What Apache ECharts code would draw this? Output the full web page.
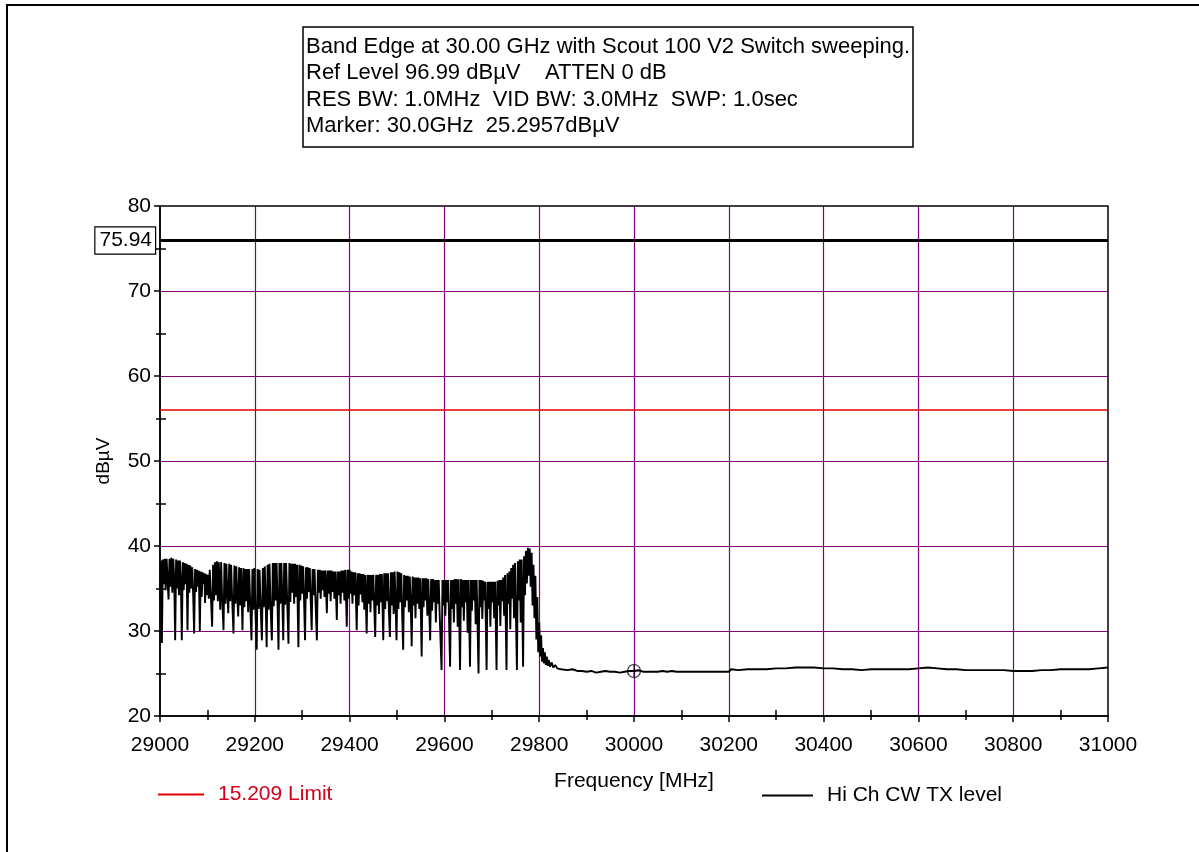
<!DOCTYPE html>
<html>
<head>
<meta charset="utf-8">
<script src="https://cdn.jsdelivr.net/npm/echarts@6.0.0/dist/echarts.min.js"></script>
<style>
html,body{margin:0;padding:0;background:#fff;}
#chart{width:1199px;height:852px;}
</style>
</head>
<body>
<div id="chart"></div>
<script>
const headerLines = [
  'Band Edge at 30.00 GHz with Scout 100 V2 Switch sweeping.',
  'Ref Level 96.99 dB\u00b5V    ATTEN 0 dB',
  'RES BW: 1.0MHz  VID BW: 3.0MHz  SWP: 1.0sec',
  'Marker: 30.0GHz  25.2957dB\u00b5V'
];
const freqRange = [29000, 31000];
const freqStep = 200;
const levelRange = [20, 80];
const levelStep = 10;
const xMinorTicks = [29100, 29300, 29500, 29700, 29900, 30100, 30300, 30500, 30700, 30900];
const yMinorTicks = [25, 35, 45, 55, 65, 75];
const limitName = '15.209 Limit';
const limitDb = 56;
const txName = 'Hi Ch CW TX level';
const txLevelDb = 75.94;
const markerPoint = [30000, 25.2957];

// measured trace [MHz, dBuV]
const trace = [
[29000,33.5],[29002,38.3],[29004,28.6],[29006,38.4],[29008,35.5],[29010,38.5],[29012,34.8],[29014,38.5],[29016,36],[29018,33.7],
[29020,38.5],[29022,35.2],[29024,38.6],[29026,34.5],[29028,38.5],[29030,36.2],[29032,28.9],
[29034,38.4],[29036,35],[29038,38.3],[29040,34.2],[29042,38.3],[29044,36],[29046,28.9],
[29048,38.1],[29050,34.8],[29052,38],[29054,35.5],[29056,37.9],[29058,30.1],
[29060,37.8],[29062,34.5],[29064,37.7],[29066,35],[29068,37.5],[29070,34.3],[29072,29.7],
[29074,37.3],[29076,34.6],[29078,37.2],[29080,35.2],[29082,37.1],[29084,30.0],
[29086,37.0],[29088,34],[29090,36.9],[29092,35.5],[29094,36.8],[29095,33.3],
[29097,36.7],[29099,34.2],[29101,36.6],[29103,33.8],[29105,37.2],[29107,34.5],[29110,30.5],
[29112,37.8],[29114,33.6],[29116,38.1],[29118,34.2],[29120,38.2],[29122,33.5],[29124,38.1],[29127,32.5],
[29129,38.1],[29131,34],[29134,30.1],
[29136,38.0],[29138,33.2],[29140,37.9],[29142,34.5],[29144,32.1],
[29146,37.9],[29148,33.5],[29150,37.8],[29152,34.2],[29155,29.7],
[29157,37.7],[29159,33.2],[29161,37.6],[29163,34],[29165,31.7],
[29167,37.5],[29169,33],[29171,37.4],[29174,30.1],
[29176,37.4],[29178,32.8],[29180,37.3],[29182,33.5],[29184,37.3],[29186,32.2],[29188,37.3],[29190,33.8],[29193,28.9],
[29195,37.3],[29197,32.5],[29199,37.4],[29201,33.2],[29204,27.8],
[29206,37.3],[29208,32.6],[29210,37.2],[29212,33.4],[29215,28.9],
[29217,37.4],[29219,32.8],[29221,37.6],[29223,33.5],[29225,28.1],
[29227,37.8],[29229,32.5],[29231,37.9],[29233,33.3],[29236,28.9],
[29238,38.0],[29240,32.9],[29242,38.0],[29244,33.6],[29246,38.0],[29248,33.0],[29250,27.8],
[29252,38.0],[29254,33.2],[29256,38.0],[29258,34],[29260,28.9],
[29262,38.0],[29264,33.1],[29266,38.0],[29268,34.2],[29271,28.5],
[29273,38.0],[29275,33.4],[29277,37.9],[29279,34.5],[29281,37.9],[29283,33.2],[29285,37.9],[29287,34],[29289,37.8],[29292,28.1],
[29294,37.8],[29296,33.6],[29298,37.7],[29300,34.4],[29302,37.6],[29304,33.5],[29306,28.9],
[29308,37.5],[29310,33.8],[29312,37.5],[29314,34.6],[29316,37.4],[29318,33.5],[29320,30.1],
[29322,37.3],[29324,34.2],[29326,37.3],[29328,33.6],[29331,28.9],
[29333,37.2],[29335,34.5],[29337,37.2],[29339,33.8],[29341,37.1],[29343,34.8],[29345,37.1],[29347,34],[29349,37.1],[29352,32.1],
[29354,37.1],[29356,34.4],[29358,37.1],[29360,33.5],[29362,37.1],[29364,34.6],[29366,37.0],[29368,33.8],[29370,37.0],[29373,31.3],
[29375,37.0],[29377,34.2],[29379,37.0],[29381,33.2],[29383,37.1],[29385,34.5],[29387,37.1],[29389,33.6],[29391,37.2],[29394,30.5],
[29396,37.2],[29398,33.8],[29400,37.2],[29402,34.4],[29404,37.0],[29406,33.2],[29408,36.9],[29410,34.2],[29412,36.9],[29415,30.1],
[29417,36.8],[29419,33.0],[29421,36.8],[29423,34.3],[29425,36.7],[29427,33.4],[29429,36.7],[29431,32.5],[29433,36.6],[29436,29.7],
[29438,36.6],[29440,33.2],[29442,36.6],[29444,32.2],[29446,36.6],[29448,33.6],[29450,36.6],[29454,29.3],
[29456,36.6],[29458,33.0],[29460,36.6],[29462,32.0],[29464,36.7],[29466,33.4],[29468,36.7],[29471,28.9],
[29473,36.8],[29475,32.6],[29477,36.8],[29479,33.5],[29481,36.8],[29483,32.2],[29485,29.3],
[29487,36.9],[29489,33.0],[29491,36.9],[29493,32.0],[29495,37.0],[29497,33.4],[29499,28.9],
[29501,37.0],[29503,32.6],[29505,36.9],[29507,33.4],[29509,36.8],[29511,31.8],[29513,27.8],
[29515,36.6],[29517,32.8],[29519,36.5],[29521,33.6],[29523,36.5],[29525,32.2],[29527,36.4],[29529,33.2],[29531,28.2],
[29533,36.4],[29535,33.0],[29537,36.3],[29539,31.5],[29541,36.3],[29543,33.2],[29545,36.3],[29547,32.6],[29549,36.2],[29552,27.0],
[29554,36.2],[29556,32.8],[29558,36.2],[29560,33.6],[29562,36.2],[29564,31.8],[29566,36.1],[29570,28.9],
[29572,36.1],[29574,32.4],[29576,36.1],[29578,33.4],[29580,36.0],[29582,31.0],[29584,36.0],[29586,33.2],[29588,36.0],[29590,32.0],[29594,25.4],
[29596,36.0],[29598,33.0],[29600,36.0],[29602,31.8],[29604,36.0],[29606,33.4],[29608,36.0],[29612,25.8],
[29614,36.0],[29616,32.6],[29618,36.0],[29620,31.0],[29622,36.1],[29624,33.2],[29626,36.1],[29628,30.5],[29630,36.1],[29633,25.4],
[29635,36.1],[29637,32.8],[29639,36.0],[29641,31.2],[29643,36.0],[29645,33.4],[29647,36.0],[29649,29.8],[29651,36.0],[29654,25.8],
[29656,36.0],[29658,32.4],[29660,36.0],[29662,33.6],[29664,36.0],[29666,30.8],[29668,36.0],[29672,25.0],
[29674,36.0],[29676,32.8],[29678,36.0],[29680,31.4],[29682,35.9],[29684,33.6],[29686,35.8],[29689,25.4],
[29691,35.8],[29693,32.6],[29695,35.8],[29697,30.5],[29699,35.8],[29701,33.4],[29703,35.8],[29705,31.5],[29707,35.8],[29710,25.4],
[29712,35.9],[29714,33.0],[29716,36.0],[29718,30.6],[29720,36.0],[29722,33.5],[29724,36.3],[29726,31.8],[29728,36.6],[29731,25.4],
[29733,36.8],[29735,33.2],[29737,37.0],[29739,30.2],[29741,37.4],[29743,33.8],[29745,37.8],[29747,31.5],[29749,38.0],[29753,25.4],
[29755,38.2],[29757,33.6],[29759,38.4],[29761,31.0],[29763,38.4],[29766,25.8],
[29768,38.8],[29770,34.2],[29772,39.4],[29774,35.6],[29776,39.8],[29778,36.5],[29780,39.7],[29782,35.2],[29784,39.2],[29786,33.0],[29788,37.8],[29790,31.5],[29792,36.5],[29794,29.0],[29796,34.0],[29798,27.5],[29800,31.0],
[29802,27.0],[29804,29.5],[29806,26.4],[29808,28.0],[29810,26.2],[29812,27.5],[29814,26.0],[29816,27.0],[29818,25.9],[29820,26.6],[29823,25.8],[29826,26.3],[29830,25.7],[29834,26.0],[29838,25.6],[29842,25.8],[29846,25.5],[29850,25.6],
[29860,25.4],[29870,25.5],[29880,25.3],[29890,25.3],[29900,25.2],[29910,25.3],[29920,25.1],[29930,25.2],[29940,25.3],[29950,25.2],[29960,25.2],[29970,25.1],[29980,25.2],[29990,25.3],[30000,25.3],
[30010,25.4],[30020,25.2],[30030,25.2],[30040,25.2],[30050,25.2],[30060,25.3],[30070,25.2],[30080,25.3],[30090,25.2],[30100,25.2],[30110,25.2],[30120,25.2],[30130,25.2],[30140,25.2],[30150,25.2],[30160,25.2],[30170,25.2],[30180,25.2],[30190,25.2],[30200,25.2],
[30205,25.5],[30220,25.4],[30240,25.5],[30260,25.5],[30280,25.5],[30300,25.6],[30320,25.6],[30340,25.7],[30360,25.7],[30380,25.7],[30400,25.6],[30420,25.6],[30440,25.5],[30460,25.5],[30480,25.4],[30500,25.5],
[30520,25.5],[30540,25.5],[30560,25.5],[30580,25.5],[30600,25.6],[30620,25.7],[30640,25.6],[30660,25.5],[30680,25.5],[30700,25.4],[30720,25.4],[30740,25.4],[30760,25.4],[30780,25.4],[30800,25.3],
[30820,25.3],[30840,25.3],[30860,25.4],[30880,25.4],[30900,25.5],[30920,25.5],[30940,25.5],[30960,25.5],[30980,25.6],[31000,25.7]
];

const FONT = 'Arial, "Liberation Sans", sans-serif';
const GRID_PURPLE = '#800080';
const RED = '#e00000';

const chart = echarts.init(document.getElementById('chart'), null, {renderer: 'canvas'});

const headerGraphics = [
  {type: 'rect', shape: {x: 7, y: 5, width: 1400, height: 1000}, style: {fill: 'none', stroke: '#000', lineWidth: 2}, silent: true, z: 0},
  {type: 'rect', shape: {x: 303, y: 27, width: 610, height: 120}, style: {fill: '#fff', stroke: '#000', lineWidth: 1.5}, z: 10}
];
headerLines.forEach((t, i) => {
  headerGraphics.push({
    type: 'text', x: 306, y: 47 + i * 26.3, z: 11,
    style: {text: t, font: '22px ' + FONT, fill: '#000', textVerticalAlign: 'middle'}
  });
});

const option = {
  animation: false,
  backgroundColor: '#fff',
  graphic: headerGraphics,
  grid: {left: 160, right: 91, top: 206, bottom: 136, show: true, borderColor: '#000', borderWidth: 1.5, backgroundColor: 'transparent', z: 3},
  legend: [
    {data: [limitName], left: 153, top: 779, icon: 'rect', itemWidth: 46, itemHeight: 2,
     textStyle: {color: '#d0001a', fontSize: 21, fontFamily: FONT, padding: [0, 0, 0, 9]}},
    {data: [txName], left: 757, top: 780, icon: 'rect', itemWidth: 51, itemHeight: 2,
     textStyle: {color: '#000', fontSize: 21, fontFamily: FONT, padding: [0, 0, 0, 9]}}
  ],
  xAxis: [
    {type: 'value', min: freqRange[0], max: freqRange[1], interval: freqStep,
     name: 'Frequency [MHz]', nameLocation: 'middle', nameGap: 55,
     nameTextStyle: {color: '#000', fontSize: 21, fontFamily: FONT},
     axisLine: {show: true, lineStyle: {color: '#000', width: 1.5}},
     axisTick: {show: true, length: 6, lineStyle: {color: '#000', width: 1.5}},
     minorTick: {show: true, splitNumber: 2, length: 4, lineStyle: {color: '#000', width: 1.5}},
     axisLabel: {color: '#000', fontSize: 21, fontFamily: FONT, margin: 19, formatter: v => String(v)},
     splitLine: {show: true, showMinLine: false, showMaxLine: false, lineStyle: {color: GRID_PURPLE, width: 1.2}}},
    {type: 'value', min: freqRange[0], max: freqRange[1], position: 'bottom',
     axisLine: {show: false}, axisLabel: {show: false}, splitLine: {show: false},
     axisTick: {show: true, inside: true, length: 6, customValues: xMinorTicks, lineStyle: {color: '#000', width: 1.5}}}
  ],
  yAxis: [
    {type: 'value', min: levelRange[0], max: levelRange[1], interval: levelStep,
     name: 'dB\u00b5V', nameLocation: 'middle', nameGap: 47,
     nameTextStyle: {color: '#000', fontSize: 19, fontFamily: FONT},
     axisLine: {show: true, lineStyle: {color: '#000', width: 1.5}},
     axisTick: {show: true, length: 6, lineStyle: {color: '#000', width: 1.5}},
     minorTick: {show: true, splitNumber: 2, length: 4, lineStyle: {color: '#000', width: 1.5}},
     axisLabel: {color: '#000', fontSize: 21, fontFamily: FONT, margin: 9},
     splitLine: {show: true, showMinLine: false, showMaxLine: false, lineStyle: {color: GRID_PURPLE, width: 1.2}}},
    {type: 'value', min: levelRange[0], max: levelRange[1], position: 'left',
     axisLine: {show: false}, axisLabel: {show: false}, splitLine: {show: false},
     axisTick: {show: true, inside: true, length: 6, customValues: yMinorTicks, lineStyle: {color: '#000', width: 1.5}}}
  ],
  series: [
    {name: 'trace', type: 'line', data: trace, symbol: 'none', sampling: null,
     lineStyle: {color: '#000', width: 1.9}, itemStyle: {color: '#000'}, z: 5},
    {name: limitName, type: 'line', data: [[freqRange[0], limitDb], [freqRange[1], limitDb]], symbol: 'none',
     lineStyle: {color: RED, width: 1.5}, itemStyle: {color: RED}, z: 4},
    {name: txName, type: 'line', data: [[freqRange[0], txLevelDb], [freqRange[1], txLevelDb]], symbol: 'none',
     lineStyle: {color: '#000', width: 3}, itemStyle: {color: '#000'}, z: 4,
     markLine: {symbol: 'none', silent: true, animation: false,
       lineStyle: {color: '#000', width: 3, type: 'solid'},
       label: {show: true, position: 'start', distance: 5, formatter: String(txLevelDb),
         color: '#000', fontSize: 21, fontFamily: FONT, backgroundColor: '#fff',
         borderColor: '#000', borderWidth: 1.2, padding: [3, 3, 2, 4]},
       data: [{yAxis: txLevelDb}]}},
    {name: 'marker', type: 'scatter', data: [markerPoint], z: 6,
     symbol: 'path://M0,10 A10,10 0 1,1 20,10 A10,10 0 1,1 0,10 Z M10,0 L10,20 M0,10 L20,10',
     symbolSize: 13, itemStyle: {color: 'rgba(0,0,0,0)', borderColor: '#000', borderWidth: 1.2}}
  ]
};
chart.setOption(option);
</script>
</body>
</html>
